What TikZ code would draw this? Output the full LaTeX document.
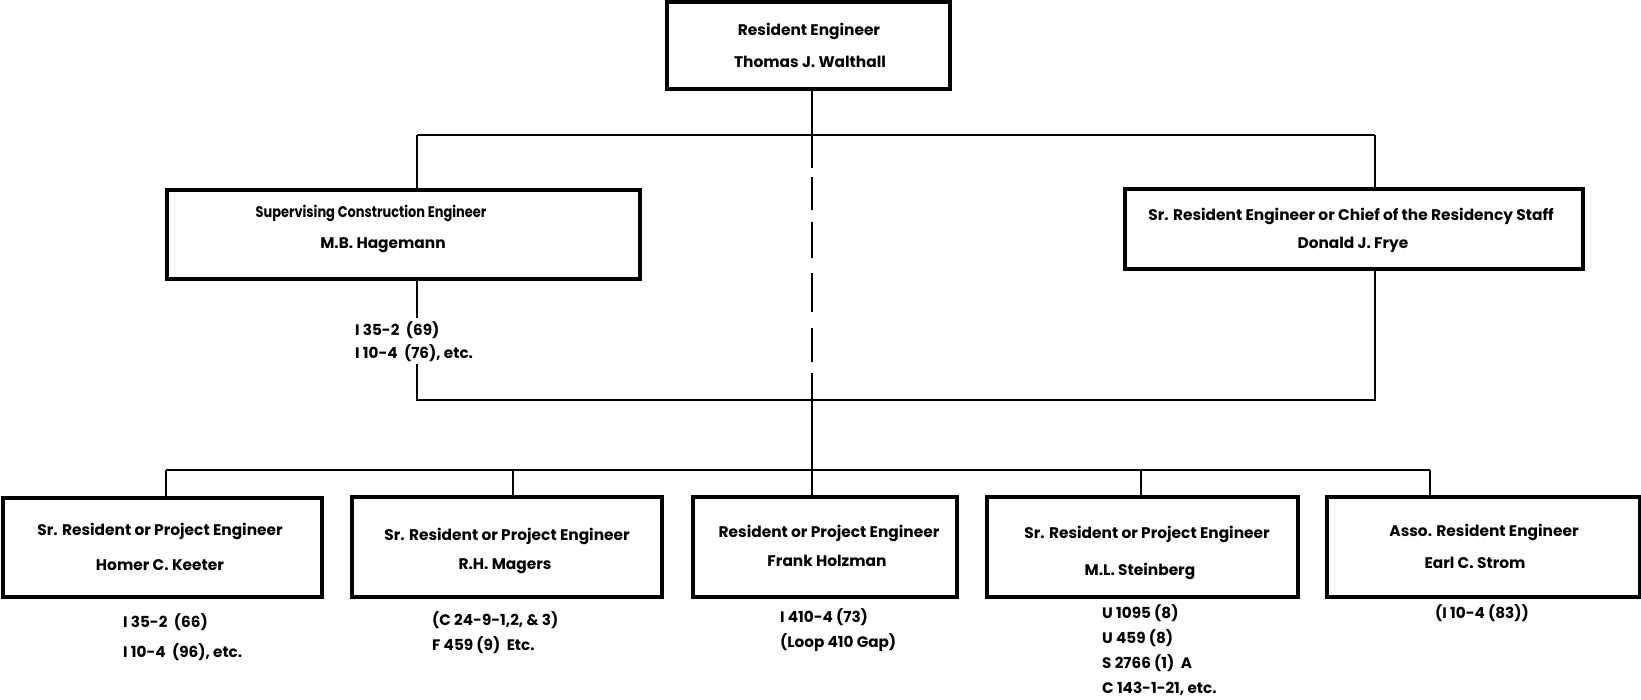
\documentclass[tikz,border=0pt]{standalone}
\usepackage{fontspec}
\setmainfont{Poppins}
\newcommand\orgfont{\fontsize{15.4}{18}\selectfont\bfseries}
\newcommand\listfont[1]{\fontsize{15.2}{#1}\selectfont\bfseries}
\begin{document}
\begin{tikzpicture}[x=1pt,y=-1pt,
  orgbox/.style={draw, line width=3.2pt, inner sep=0pt, outer sep=0pt},
  lbl/.style={font=\orgfont, inner sep=0pt, anchor=base},
  lst/.style={inner sep=0pt, anchor=base west, align=left},
  link/.style={line width=2.8pt},
]
\useasboundingbox[fill=white] (0,0) rectangle (1641,699);

% ---- boxes ----
\node[orgbox, minimum width=283, minimum height=87]  (re)  at (808.5,45.5) {};
\node[orgbox, minimum width=473, minimum height=89]  (sup) at (403.5,234.5) {};
\node[orgbox, minimum width=458, minimum height=80]  (sr)  at (1354,229) {};
\node[orgbox, minimum width=319, minimum height=99]  (b1)  at (162.5,547.5) {};
\node[orgbox, minimum width=310, minimum height=100] (b2)  at (507,547) {};
\node[orgbox, minimum width=264, minimum height=100] (b3)  at (825,547) {};
\node[orgbox, minimum width=311, minimum height=100] (b4)  at (1142.5,547) {};
\node[orgbox, minimum width=313, minimum height=100] (b5)  at (1483.5,547) {};

% ---- titles and names ----
\node[lbl] (reT)  at (809,35)   {Resident Engineer};
\node[lbl] (reN)  at (810,67)   {Thomas J. Walthall};
\node[lbl] (supT) at (371,217)  {\scalebox{0.84}[1]{Supervising Construction Engineer}};
\node[lbl] (supN) at (383,248)  {M.B. Hagemann};
\node[lbl] (srT)  at (1351,220) {Sr. Resident Engineer or Chief of the Residency Staff};
\node[lbl] (srN)  at (1353,248) {Donald J. Frye};
\node[lbl] (b1T)  at (160,535)  {Sr. Resident or Project Engineer};
\node[lbl] (b1N)  at (160,570)  {Homer C. Keeter};
\node[lbl] (b2T)  at (507,540)  {Sr. Resident or Project Engineer};
\node[lbl] (b2N)  at (505,569)  {R.H. Magers};
\node[lbl] (b3T)  at (829,537)  {Resident or Project Engineer};
\node[lbl] (b3N)  at (827,566)  {Frank Holzman};
\node[lbl] (b4T)  at (1147,538) {Sr. Resident or Project Engineer};
\node[lbl] (b4N)  at (1140,575) {M.L. Steinberg};
\node[lbl] (b5T)  at (1484,536) {Asso. Resident Engineer};
\node[lbl] (b5N)  at (1475,568) {Earl C. Strom};

% ---- junction points ----
\coordinate (jL) at (417,135);
\coordinate (j0) at (812,135);
\coordinate (jR) at (1375,135);
\coordinate (dA) at (812,168);
\coordinate (dC) at (812,177);
\coordinate (dB) at (812,373);
\coordinate (kL) at (417,400);
\coordinate (kR) at (1375,400);
\coordinate (q1) at (166,470);
\coordinate (q2) at (513,470);
\coordinate (q3) at (812,470);
\coordinate (q4) at (1141,470);
\coordinate (q5) at (1430,470);

% ---- connectors ----
\draw[link] (jL) -- (jR);
\draw[link] (jL) -- (jL |- sup.north);
\draw[link] (jR) -- (jR |- sr.north);
\draw[link] (j0 |- re.south) -- (dA);
\draw[link, dash pattern=on 33pt off 12pt on 36pt off 15pt on 39pt off 16pt on 34pt off 11pt] (dC) -- (dB);
\draw[link] (dB) -- (q3) -- (q3 |- b3.north);
\draw[link] (jL |- sup.south) -- (kL) -- (kR) -- (jR |- sr.south);
\draw[link] (q1) -- (q5);
\draw[link] (q1) -- (q1 |- b1.north);
\draw[link] (q2) -- (q2 |- b2.north);
\draw[link] (q4) -- (q4 |- b4.north);
\draw[link] (q5) -- (q5 |- b5.north);

% ---- route lists (anchored at the baseline of their last line) ----
\node[lst, font=\listfont{23}, fill=white, inner sep=3pt] (supL) at (352,358) {I 35-2~~(69)\\I 10-4~~(76), etc.};
\node[lst, font=\listfont{30}] (b1L) at (123,657)  {I 35-2~~(66)\\I 10-4~~(96), etc.};
\node[lst, font=\listfont{25}] (b2L) at (432,650)  {(C 24-9-1,2, \& 3)\\F 459 (9)~~Etc.};
\node[lst, font=\listfont{25}] (b3L) at (780,647)  {I 410-4 (73)\\(Loop 410 Gap)};
\node[lst, font=\listfont{25}] (b4L) at (1102,693) {U 1095 (8)\\U 459 (8)\\S 2766 (1)~~A\\C 143-1-21, etc.};
\node[lst, font=\listfont{25}] (b5L) at (1435,618) {(I 10-4 (83))};
\end{tikzpicture}
\end{document}
